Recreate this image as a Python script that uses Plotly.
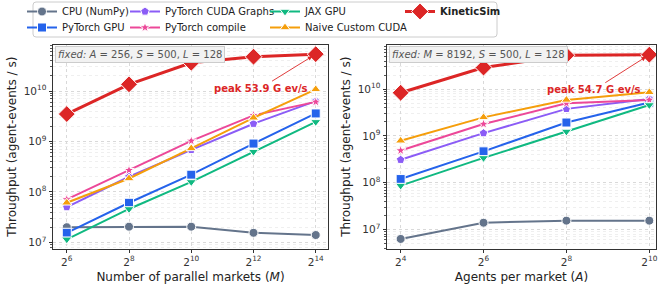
import math
import plotly.graph_objects as go

# ---------------- data ----------------
M_vals = [64, 256, 1024, 4096, 16384]
M_ticktext = ["2<sup>6</sup>", "2<sup>8</sup>", "2<sup>10</sup>", "2<sup>12</sup>", "2<sup>14</sup>"]
A_vals = [16, 64, 256, 1024]
A_ticktext = ["2<sup>4</sup>", "2<sup>6</sup>", "2<sup>8</sup>", "2<sup>10</sup>"]

y_tickvals = [1e7, 1e8, 1e9, 1e10]
y_ticktext = ["10<sup>7</sup>", "10<sup>8</sup>", "10<sup>9</sup>", "10<sup>10</sup>"]

# left panel: throughput vs number of markets M
cpu_M = [2.0e7, 2.05e7, 2.05e7, 1.55e7, 1.4e7]
ptgpu_M = [1.55e7, 6.1e7, 2.2e8, 9.1e8, 3.6e9]
graphs_M = [5.0e7, 2.0e8, 6.8e8, 2.25e9, 6.3e9]
compile_M = [7.1e7, 2.7e8, 1.03e9, 3.3e9, 6.1e9]
jax_M = [1.15e7, 4.6e7, 1.58e8, 6.3e8, 2.45e9]
naive_M = [6.1e7, 1.85e8, 7.3e8, 2.95e9, 1.08e10]
kinetic_M = [3.5e9, 1.36e10, 3.64e10, 4.8e10, 5.39e10]

# right panel: throughput vs agents per market A
cpu_A = [6.3e6, 1.4e7, 1.55e7, 1.55e7]
ptgpu_A = [1.2e8, 4.7e8, 1.94e9, 5.2e9]
graphs_A = [3.1e8, 1.15e9, 3.8e9, 6.2e9]
compile_A = [4.9e8, 1.8e9, 5.0e9, 5.9e9]
jax_A = [8.7e7, 3.4e8, 1.25e9, 4.6e9]
naive_A = [7.9e8, 2.5e9, 5.9e9, 8.6e9]
kinetic_A = [8.4e9, 2.9e10, 5.3e10, 5.47e10]

series_names = ["CPU (NumPy)", "PyTorch GPU", "PyTorch CUDA Graphs", "PyTorch compile",
                "JAX GPU", "Naive Custom CUDA", "KineticSim"]

# ---------------- styles ----------------
W, H = 659, 291
FONT = "DejaVu Sans"
# legend slot: (legend id, x of legend left edge in px, y of row centre in px)
styles = {
    "CPU (NumPy)": dict(color="#64748b", symbol="circle", size=9, width=2, leg=("legend", 22, 11.5)),
    "PyTorch GPU": dict(color="#2563eb", symbol="square", size=9, width=2, leg=("legend2", 22, 27.5)),
    "PyTorch CUDA Graphs": dict(color="#8b5cf6", symbol="pentagon", size=9, width=2, leg=("legend3", 125, 11.5)),
    "PyTorch compile": dict(color="#ec4899", symbol="star", size=8, width=2, leg=("legend4", 125, 27.5)),
    "JAX GPU": dict(color="#10b981", symbol="triangle-down", size=9, width=2, leg=("legend5", 265, 11.5)),
    "Naive Custom CUDA": dict(color="#f59e0b", symbol="triangle-up", size=9, width=2, leg=("legend6", 265, 27.5)),
    "KineticSim": dict(color="#dc2626", symbol="diamond", size=13, width=3, leg=("legend7", 400, 11.5)),
}
left_data = [cpu_M, ptgpu_M, graphs_M, compile_M, jax_M, naive_M, kinetic_M]
right_data = [cpu_A, ptgpu_A, graphs_A, compile_A, jax_A, naive_A, kinetic_A]

fig = go.Figure()
for name, yl, yr in zip(series_names, left_data, right_data):
    s = styles[name]
    label = "<b>%s</b>" % name if name == "KineticSim" else name
    common = dict(mode="lines+markers",
                  line=dict(color=s["color"], width=s["width"]),
                  marker=dict(symbol=s["symbol"], size=s["size"], color=s["color"],
                              line=dict(color="white", width=1)))
    fig.add_trace(go.Scatter(x=M_vals, y=yl, name=label, legend=s["leg"][0],
                             xaxis="x", yaxis="y", showlegend=True, **common))
    fig.add_trace(go.Scatter(x=A_vals, y=yr, name=label, legend=s["leg"][0],
                             xaxis="x2", yaxis="y2", showlegend=False, **common))

# minor gridline positions (2..9 x 10^d)
minor_vals = [k * 10 ** d for d in range(6, 11) for k in range(2, 10)]

grid_major = dict(showgrid=True, gridcolor="#d9d9d9", griddash="dot", gridwidth=0.8)
axis_common = dict(type="log", showline=True, linecolor="#333333", linewidth=1, mirror=True,
                   ticks="outside", ticklen=3.5, tickwidth=0.8, tickcolor="#333333",
                   tickfont=dict(family=FONT, size=10.5, color="#333333"), zeroline=False,
                   **grid_major)
yminor = dict(tickmode="array", tickvals=minor_vals, ticks="outside", ticklen=2,
              tickcolor="#555555", showgrid=True, gridcolor="#efefef", griddash="dot",
              gridwidth=0.6)

ydom = [1 - 248.5 / H, 1 - 45 / H]
ytitle = dict(text="Throughput (agent-events / s)", font=dict(family=FONT, size=12, color="#222222"),
              standoff=4)

fig.update_layout(
    width=W, height=H,
    margin=dict(l=0, r=0, t=0, b=0, autoexpand=False),
    paper_bgcolor="white", plot_bgcolor="white",
    font=dict(family=FONT, color="#222222"),
    xaxis=dict(domain=[53 / W, 328 / W], range=[1.673, 4.333], anchor="y",
               tickmode="array", tickvals=M_vals, ticktext=M_ticktext,
               title=dict(text="Number of parallel markets (<i>M</i>)",
                          font=dict(family=FONT, size=12, color="#222222"), standoff=6),
               **axis_common),
    yaxis=dict(domain=ydom, range=[6.879, 10.913], anchor="x",
               tickmode="array", tickvals=y_tickvals, ticktext=y_ticktext,
               title=ytitle, minor=yminor, **axis_common),
    xaxis2=dict(domain=[387 / W, 656 / W], range=[1.105, 3.059], anchor="y2",
                tickmode="array", tickvals=A_vals, ticktext=A_ticktext,
                title=dict(text="Agents per market (<i>A</i>)",
                           font=dict(family=FONT, size=12, color="#222222"), standoff=6),
                **axis_common),
    yaxis2=dict(domain=ydom, range=[6.595, 10.945], anchor="x2",
                tickmode="array", tickvals=y_tickvals, ticktext=y_ticktext,
                title=ytitle, minor=yminor, **axis_common),
)

# legends: one per entry, laid out like a 4-column matplotlib legend
leg_font = dict(family=FONT, size=10, color="#222222")
for name in series_names:
    key, xpx, ypx = styles[name]["leg"]
    fig.update_layout({key: dict(x=xpx / W, y=1 - ypx / H, xanchor="left", yanchor="middle",
                                 orientation="v", bgcolor="rgba(0,0,0,0)", borderwidth=0,
                                 font=leg_font, itemwidth=30, tracegroupgap=0,
                                 itemclick=False, itemdoubleclick=False)})

# rounded legend frame
x0, x1, y0, y1, r = 33, 497, 2, 37, 3
def px(x): return x / W
def py(y): return 1 - y / H
path = (f"M {px(x0 + r)} {py(y0)} L {px(x1 - r)} {py(y0)} Q {px(x1)} {py(y0)} {px(x1)} {py(y0 + r)} "
        f"L {px(x1)} {py(y1 - r)} Q {px(x1)} {py(y1)} {px(x1 - r)} {py(y1)} "
        f"L {px(x0 + r)} {py(y1)} Q {px(x0)} {py(y1)} {px(x0)} {py(y1 - r)} "
        f"L {px(x0)} {py(y0 + r)} Q {px(x0)} {py(y0)} {px(x0 + r)} {py(y0)} Z")
fig.add_shape(type="path", path=path, xref="paper", yref="paper",
              line=dict(color="#cccccc", width=1), fillcolor="white", layer="below")

# "fixed" parameter boxes
box = dict(showarrow=False, xanchor="left", yanchor="top", bgcolor="#f2f2f2",
           bordercolor="#cccccc", borderwidth=1, borderpad=2,
           font=dict(family=FONT, size=10, color="#555555"))
fig.add_annotation(xref="x domain", yref="y domain", x=0.006, y=0.993,
                   text="<i>fixed:</i> <i>A</i> = 256, <i>S</i> = 500, <i>L</i> = 128", **box)
fig.add_annotation(xref="x2 domain", yref="y2 domain", x=0.006, y=0.993,
                   text="<i>fixed:</i> <i>M</i> = 8192, <i>S</i> = 500, <i>L</i> = 128", **box)

# peak annotations
peak_style = dict(showarrow=True, arrowhead=2, arrowsize=1, arrowwidth=0.9,
                  arrowcolor="#dc2626", font=dict(family=FONT, size=10, color="#dc2626"),
                  xanchor="center", yanchor="middle", standoff=4)
fig.add_annotation(xref="x", yref="y", x=math.log10(M_vals[-1]), y=math.log10(kinetic_M[-1]),
                   ax=-55, ay=34, text="<b>peak %.1f G ev/s</b>" % (kinetic_M[-1] / 1e9), **peak_style)
fig.add_annotation(xref="x2", yref="y2", x=math.log10(A_vals[-1]), y=math.log10(kinetic_A[-1]),
                   ax=-55, ay=35, text="<b>peak %.1f G ev/s</b>" % (kinetic_A[-1] / 1e9), **peak_style)

# remove the default 8px page margin so the figure sits at the window's corner
fig.write_html("out.html", config={"displayModeBar": False},
               post_script="document.body.style.margin='0px';")
